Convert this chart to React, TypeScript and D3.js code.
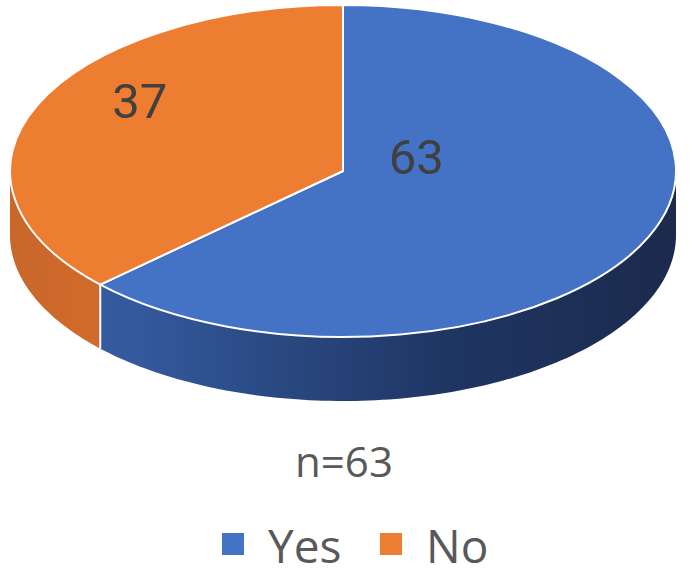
import * as d3 from "d3";

const categories = ["Yes", "No"];
const values = [63, 37];
const colors = ["#4472C4", "#ED7D31"];
const sampleSize = 63;

// where the value labels sit, as fractions of the ellipse radii (Excel puts them oddly)
const labelSpots: [number, number][] = [[0.22, -0.08], [-0.61, -0.42]];

const width = 692;
const height = 579;
const cx = 343;
const cy = 171;
const rx = 333;
const ry = 166;
const depth = 64;

function rim(a0: number, a1: number, dy: number) {
  const n = Math.max(2, Math.ceil((a1 - a0) / 0.02));
  return d3.range(n + 1).map((i) => {
    const t = a0 + ((a1 - a0) * i) / n;
    return [cx + rx * Math.sin(t), cy - ry * Math.cos(t) + dy] as [number, number];
  });
}

function sidePath(a0: number, a1: number) {
  const s = Math.max(a0, Math.PI / 2);
  const e = Math.min(a1, (3 * Math.PI) / 2);
  if (s >= e) return null;
  const pts = rim(s, e, 0).concat(rim(s, e, depth).reverse());
  return d3.line()(pts) + "Z";
}

export default function App() {
  const pie = d3.pie<number>().sort(null).value((d) => d)(values);
  const arc = d3.arc<d3.PieArcDatum<number>>().innerRadius(0).outerRadius(rx);

  return (
    <svg
      width={width}
      height={height}
      style={{ position: "absolute", left: 0, top: 0, background: "#fff" }}
    >
      <defs>
        <linearGradient id="sideYes" gradientUnits="userSpaceOnUse" x1={cx - rx} x2={cx + rx} y1={0} y2={0}>
          <stop offset="0%" stopColor="#3a62a8" />
          <stop offset="20%" stopColor="#33589b" />
          <stop offset="65%" stopColor="#1f3663" />
          <stop offset="100%" stopColor="#1b2a4d" />
        </linearGradient>
        <linearGradient id="sideNo" gradientUnits="userSpaceOnUse" x1={cx - rx} x2={cx - rx + 100} y1={0} y2={0}>
          <stop offset="0%" stopColor="#c9662a" />
          <stop offset="100%" stopColor="#d26c2b" />
        </linearGradient>
      </defs>

      {/* side walls */}
      {pie.map((p, i) => {
        const d = sidePath(p.startAngle, p.endAngle);
        return d ? (
          <path key={"s" + i} d={d} fill={i === 0 ? "url(#sideYes)" : "url(#sideNo)"} />
        ) : null;
      })}
      {pie.slice(1).map((p, i) => {
        const [x, y] = rim(p.startAngle, p.startAngle, 0)[0];
        return (
          <line key={"e" + i} x1={x} x2={x} y1={y} y2={y + depth} stroke="#fff" strokeWidth={2} />
        );
      })}

      {/* top face */}
      <g transform={`translate(${cx},${cy}) scale(1,${ry / rx})`}>
        {pie.map((p, i) => (
          <path
            key={"t" + i}
            d={arc(p) || ""}
            fill={colors[i]}
            stroke="#fff"
            strokeWidth={2}
            vectorEffect="non-scaling-stroke"
          />
        ))}
      </g>

      {/* value labels */}
      {pie.map((p, i) => (
        <text
          key={"l" + i}
          x={cx + labelSpots[i][0] * rx}
          y={cy + labelSpots[i][1] * ry}
          textAnchor="middle"
          dominantBaseline="central"
          fontFamily="Roboto, sans-serif"
          fontSize={49}
          fill="#404040"
        >
          {p.data}
        </text>
      ))}

      <text
        x={cx + 1}
        y={477}
        textAnchor="middle"
        fontFamily="'Open Sans', sans-serif"
        fontSize={42}
        fill="#595959"
      >
        {`n=${sampleSize}`}
      </text>

      {/* legend */}
      {categories.map((c, i) => (
        <g key={c} transform={`translate(${222 + i * 158},533)`}>
          <rect width={22} height={22} fill={colors[i]} />
          <text x={46} y={30} fontFamily="'Open Sans', sans-serif" fontSize={46} fill="#595959">
            {c}
          </text>
        </g>
      ))}
    </svg>
  );
}
